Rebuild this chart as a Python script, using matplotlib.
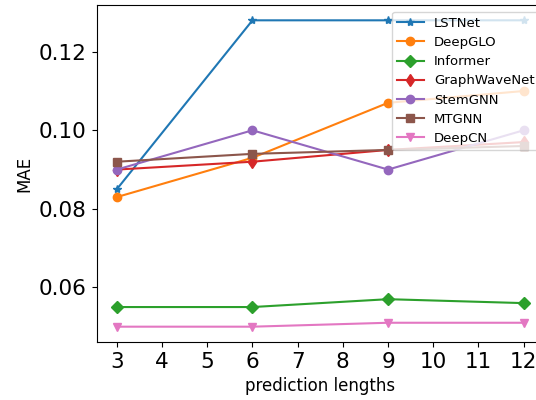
import matplotlib
matplotlib.use("Agg")
import matplotlib.pyplot as plt

x = [3, 6, 9, 12]
lstnet = [0.085, 0.128, 0.128, 0.128]
deepglo = [0.083, 0.093, 0.107, 0.110]
informer = [0.055, 0.055, 0.057, 0.056]
graphwavenet = [0.090, 0.092, 0.095, 0.097]
stemgnn = [0.090, 0.100, 0.090, 0.100]
mtgnn = [0.092, 0.094, 0.095, 0.096]
deepcn = [0.050, 0.050, 0.051, 0.051]

fig = plt.figure(figsize=(5.36, 4.0), dpi=100)
ax = fig.add_axes([96.5/536, 1-342/400, (544-96.5)/536, (342-5)/400])

ms = 6
ax.plot(x, lstnet, marker='*', markersize=ms, label='LSTNet')
ax.plot(x, deepglo, marker='o', markersize=ms, label='DeepGLO')
ax.plot(x, informer, marker='D', markersize=ms, label='Informer')
ax.plot(x, graphwavenet, marker='d', markersize=ms, label='GraphWaveNet')
ax.plot(x, stemgnn, marker='o', markersize=ms, label='StemGNN')
ax.plot(x, mtgnn, marker='s', markersize=ms, label='MTGNN')
ax.plot(x, deepcn, marker='v', markersize=ms, label='DeepCN')

ax.set_xticks(range(3, 13))
ax.set_yticks([0.06, 0.08, 0.10, 0.12])
ax.tick_params(labelsize=15.5)
ax.set_xlabel('prediction lengths', fontsize=12)
ax.set_ylabel('MAE', fontsize=12)
ax.legend(loc='upper left', fontsize=9.5, labelspacing=0.47,
          bbox_to_anchor=(0.6456, 1.0))

fig.savefig('out.png', dpi=100)
